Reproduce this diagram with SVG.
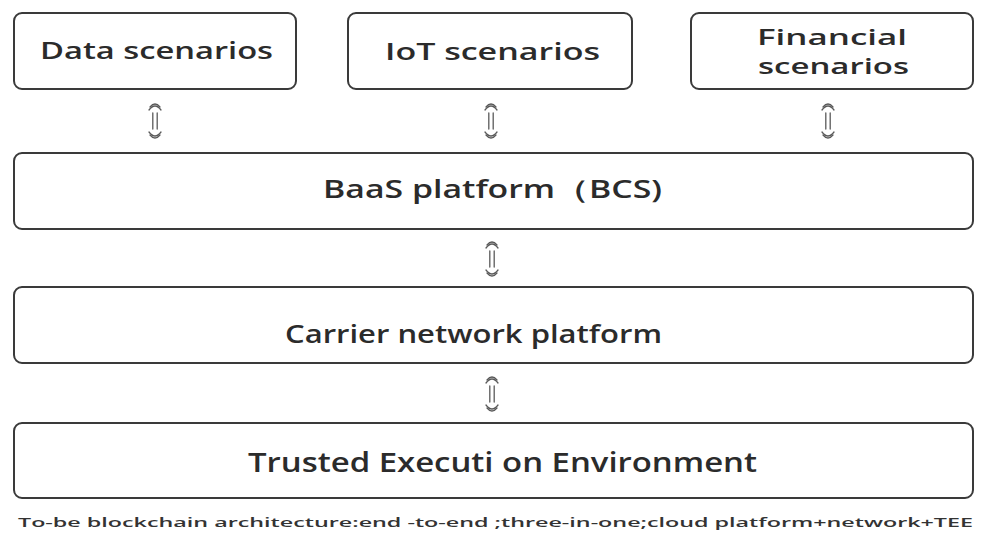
<svg xmlns="http://www.w3.org/2000/svg" width="981" height="533" viewBox="0 0 981 533">
  <style>
    .box { fill: #ffffff; stroke: #3a3a3a; stroke-width: 2; }
    .lbl { font-family: "Open Sans", "Noto Sans", "Liberation Sans", sans-serif; font-weight: 600; fill: #2b2b2b; }
    .cap { font-family: "Open Sans", "Noto Sans", "Liberation Sans", sans-serif; font-weight: 600; fill: #333333; font-size: 13px; }
    .arr { fill: none; stroke: #5a5a5a; stroke-width: 1.3; stroke-linecap: round; }
  </style>
  <defs>
    <!-- small two-way arrow: curved head, double shaft, curved tail -->
    <g id="twoway">
      <path class="arr" d="M-6,-11 Q0,-19 6,-11"/>
      <path class="arr" d="M-5,-14 Q0,-20 5,-14"/>
      <line class="arr" x1="-2.2" y1="-8" x2="-2.2" y2="8"/>
      <line class="arr" x1="2.2" y1="-8" x2="2.2" y2="8"/>
      <path class="arr" d="M-6,11 Q0,19 6,11"/>
      <path class="arr" d="M-5,14 Q0,20 5,14"/>
    </g>
  </defs>
  <rect width="981" height="533" fill="#ffffff"/>

  <g id="data-scenarios">
    <rect class="box" x="14" y="13" width="282" height="76" rx="8"/>
    <text class="lbl" x="40" y="59" font-size="23" textLength="233" lengthAdjust="spacingAndGlyphs">Data scenarios</text>
  </g>
  <g id="iot-scenarios">
    <rect class="box" x="348" y="13" width="284" height="76" rx="8"/>
    <text class="lbl" x="385" y="60" font-size="23" textLength="215" lengthAdjust="spacingAndGlyphs">IoT scenarios</text>
  </g>
  <g id="financial-scenarios">
    <rect class="box" x="691" y="13" width="282" height="76" rx="8"/>
    <text class="lbl" x="757" y="45" font-size="21" textLength="150" lengthAdjust="spacingAndGlyphs">Financial</text>
    <text class="lbl" x="758" y="74" font-size="21" textLength="151" lengthAdjust="spacingAndGlyphs">scenarios</text>
  </g>
  <g id="baas-platform">
    <rect class="box" x="14" y="153" width="959" height="76" rx="8"/>
    <text class="lbl" x="323" y="198" font-size="25" textLength="339" lengthAdjust="spacingAndGlyphs">BaaS platform（BCS)</text>
  </g>
  <g id="carrier-network">
    <rect class="box" x="14" y="287" width="959" height="76" rx="8"/>
    <text class="lbl" x="285" y="343" font-size="25" textLength="377" lengthAdjust="spacingAndGlyphs">Carrier network platform</text>
  </g>
  <g id="tee">
    <rect class="box" x="14" y="423" width="959" height="75" rx="8"/>
    <text class="lbl" x="248" y="472" font-size="27" textLength="509" lengthAdjust="spacingAndGlyphs">Trusted Executi on Environment</text>
  </g>

  <g id="connectors">
    <use href="#twoway" x="155" y="121"/>
    <use href="#twoway" x="491" y="121"/>
    <use href="#twoway" x="828" y="121"/>
    <use href="#twoway" x="492" y="259"/>
    <use href="#twoway" x="492" y="394"/>
  </g>

  <text class="cap" x="18" y="527" textLength="955" lengthAdjust="spacingAndGlyphs">To-be blockchain architecture:end -to-end ;three-in-one;cloud platform+network+TEE</text>
</svg>
